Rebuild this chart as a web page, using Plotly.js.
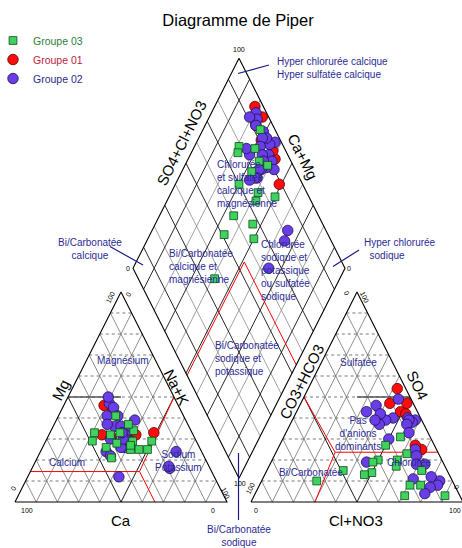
<!DOCTYPE html>
<html><head><meta charset="utf-8">
<script src="https://cdn.plot.ly/plotly-3.0.1.min.js"></script>
<style>html,body{margin:0;padding:0;background:#fff}#chart{width:462px;height:548px}</style>
</head><body><div id="chart"></div>
<script>
// ---- Data (percent of meq) ----
const groupNames = ['Groupe 03', 'Groupe 01', 'Groupe 02'];
// Groupe 03
const g03_na  = [27,39,29,34,50,33,21,22,41,42,30,46,50,35,35,41];
const g03_mg  = [41,34,32,28,29,33,33,29,29,25,26,25,25,37,21,27];
const g03_so4 = [3,15,31,23,8,20,8,17,27,3,20,19,14,13,15,10];
const g03_cl  = [90,73,55,62,76,59,71,60,50,71,50,48,50,47,36,26];
// Groupe 01
const g01_na  = [19,25,41,49,24,38,30];
const g01_mg  = [46,32,32,33,44,30,31];
const g01_so4 = [54,47,25,47,43,42,27];
const g01_cl  = [42,50,68,42,49,52,64];
// Groupe 02
const g02_na  = [37,21,29,23,35,32,24,30,19,37,40,43,31,34,39,36,37,36,64,28,25,37,36,65,34,64];
const g02_mg  = [27,47,36,41,34,36,45,30,50,39,29,12,24,22,26,32,30,28,24,41,37,26,30,16,33,17];
const g02_so4 = [39,38,49,40,39,10,37,8,18,33,12,25,22,7,40,18,4,39,46,42,11,30,37,39,43,19];
const g02_cl  = [58,57,45,54,55,84,55,84,73,58,79,65,67,81,47,69,80,44,36,40,71,50,42,39,33,45];

// ---- Piper geometry ----
const GAP = 0.1132;
function catXY(na, mg) { return [na/100 + mg/200, mg/100]; }
function anXY(cl, so4) { return [1 + GAP + cl/100 + so4/200, so4/100]; }
function diaAC(a, c) { return [1 + GAP/2 + 0.5*(a - c), GAP + a + c]; }
function diaXY(na, cl, so4) { return diaAC((cl + so4)/100, 1 - na/100); }
const PX = px => -15/212 + px/212;
const PY = py => (502 - py)/210;

const FONT = 'Liberation Sans, Arial, sans-serif';
const NAVY = '#2b2b95';

function group(na, mg, so4, cl) {
  const x = [], y = [];
  for (let i = 0; i < na.length; i++) {
    const p1 = catXY(na[i], mg[i]); x.push(p1[0]); y.push(p1[1]);
    const p2 = anXY(cl[i], so4[i]); x.push(p2[0]); y.push(p2[1]);
    const p3 = diaXY(na[i], cl[i], so4[i]); x.push(p3[0]); y.push(p3[1]);
  }
  return {x, y};
}

function lineTrace(segs, color, width, dash) {
  const x = [], y = [];
  segs.forEach(s => { s.forEach(p => { x.push(p[0]); y.push(p[1]); }); x.push(null); y.push(null); });
  return {type:'scatter', mode:'lines', x, y, line:{color, width, dash: dash || 'solid'},
          hoverinfo:'skip', showlegend:false};
}

// grids
const triSlant = [], triMid = [], triHoriz = [], diaBlack = [], diaGray = [];
for (let i = 1; i <= 9; i++) {
  const f = i*10;
  const s = (i === 5) ? triMid : triSlant;
  triHoriz.push([catXY(0, f), catXY(100 - f, f)]);
  s.push([catXY(f, 0), catXY(f, 100 - f)]);
  s.push([catXY(100 - f, 0), catXY(0, 100 - f)]);
  triHoriz.push([anXY(0, f), anXY(100 - f, f)]);
  s.push([anXY(f, 0), anXY(f, 100 - f)]);
  s.push([anXY(100 - f, 0), anXY(0, 100 - f)]);
  const t = (i % 2 === 1) ? diaBlack : diaGray;
  t.push([diaAC(f/100, 0), diaAC(f/100, 1)]);
  t.push([diaAC(0, f/100), diaAC(1, f/100)]);
}
const outlines = [
  [catXY(0,0), catXY(100,0), catXY(0,100), catXY(0,0)],
  [anXY(0,0), anXY(100,0), anXY(0,100), anXY(0,0)],
  [diaAC(0,0), diaAC(1,0), diaAC(1,1), diaAC(0,1), diaAC(0,0)]
];
const darkSegs = [
  [catXY(0,50), catXY(25,50)],
  [anXY(25,50), anXY(50,50)]
];
const redSegs = [
  [catXY(0,14.5), catXY(51.5,14.5), catXY(50,50)],
  [catXY(51.5,14.5), catXY(66,0)],
  [anXY(0,50), anXY(27.8,23.7), anXY(76.3,23.7)],
  [anXY(27.8,23.7), anXY(30.2,0)],
  [diaAC(0,0.49), diaAC(0.54,0.49), diaAC(0.54,0)]
];

const traces = [
  lineTrace(triSlant, '#5e5e5e', 0.7),
  lineTrace(triHoriz, '#6a6a6a', 0.9, 'dot'),
  lineTrace(triMid, '#000', 0.9),
  lineTrace(diaGray, '#8a8a8a', 0.8),
  lineTrace(diaBlack, '#111', 0.9),
  lineTrace(darkSegs, '#555', 1.6),
  lineTrace(redSegs, '#ff0000', 1),
  lineTrace(outlines, '#000', 1.1)
];

const gR = group(g01_na, g01_mg, g01_so4, g01_cl);
const gP = group(g02_na, g02_mg, g02_so4, g02_cl);
const gG = group(g03_na, g03_mg, g03_so4, g03_cl);
traces.push({type:'scatter', mode:'markers', x:gR.x, y:gR.y, legendrank:2,
  name:'<span style="color:#b81c3c">' + groupNames[1] + '</span>',
  marker:{symbol:'circle', size:10.5, color:'#ff0d0d', line:{color:'#5a0000', width:0.8}}});
traces.push({type:'scatter', mode:'markers', x:gP.x, y:gP.y, legendrank:3,
  name:'<span style="color:#2b2b88">' + groupNames[2] + '</span>',
  marker:{symbol:'circle', size:10.5, color:'#6a3ee6', line:{color:'#1c1050', width:0.8}}});
traces.push({type:'scatter', mode:'markers', x:gG.x, y:gG.y, legendrank:1,
  name:'<span style="color:#2e7d3a">' + groupNames[0] + '</span>',
  marker:{symbol:'square', size:7.8, color:'#3fd35e', line:{color:'#0d4a1c', width:0.8}}});

// ---- annotations ----
const ann = [];
function txt(text, px, py, opt) {
  opt = opt || {};
  ann.push({x:PX(px), y:PY(py), xref:'x', yref:'y', text, showarrow:false,
    font:{family:FONT, size:opt.size || 10, color:opt.color || NAVY},
    xanchor:opt.xa || 'center', yanchor:'middle', align:opt.align || 'center',
    textangle:opt.angle || 0});
}
// facies labels
txt('Hyper chlorurée calcique<br>Hyper sulfatée calcique', 275, 68, {xa:'left', align:'left'});
txt('Chlorurée<br>et sulfatée<br>calcique et<br>magnésienne', 215, 184, {xa:'left', align:'left'});
txt('Bi/Carbonatée<br>calcique et<br>magnésienne', 167, 266, {xa:'left', align:'left'});
txt('Chlorurée<br>sodique et<br>potassique<br>ou sulfatée<br>sodique', 259, 270, {xa:'left', align:'left'});
txt('Bi/Carbonatée<br>sodique et<br>potassique', 213, 358, {xa:'left', align:'left'});
txt('Bi/Carbonatée<br>calcique', 90, 249);
txt('Hyper chlorurée<br>\u00a0\u00a0sodique', 362, 249, {xa:'left', align:'left'});
txt('Magnésium', 123, 360);
txt('Calcium', 67, 462);
txt('Sodium<br>Potassium', 178, 461);
txt('Sulfatée', 358, 362);
txt('Pas<br>d\'anions<br>dominants', 358, 433);
txt('Chlorurée', 409, 462);
txt('Bi/Carbonatée', 311, 472);
txt('Bi/Carbonatée<br>sodique', 239, 536);
// axis titles
const AX = {size:15, color:'#000'};
txt('SO4+Cl+NO3', 181, 143, Object.assign({angle:-63.5}, AX));
txt('Ca+Mg', 303, 156, Object.assign({angle:63.5}, AX));
txt('Mg', 60, 390, Object.assign({angle:-63.5}, AX));
txt('Na+K', 177, 387, Object.assign({angle:63.5}, AX));
txt('CO3+HCO3', 301, 382, Object.assign({angle:-63.5}, AX));
txt('SO4', 418, 385, Object.assign({angle:63.5}, AX));
txt('Ca', 121, 520, AX);
txt('Cl+NO3', 356, 520, AX);
// tick labels
const TK = {size:7, color:'#000'};
txt('100', 239, 49, TK);
txt('0', 128, 268, TK);
txt('0', 349, 268, TK);
txt('100', 240, 483, TK);
txt('100', 27, 510, TK);
txt('0', 213, 510, TK);
txt('0', 13, 488, Object.assign({angle:-63.5}, TK));
txt('100', 226, 493, Object.assign({angle:63.5}, TK));
txt('100', 110, 297, Object.assign({angle:-63.5}, TK));
txt('0', 128, 294, Object.assign({angle:-63.5}, TK));
txt('0', 256, 510, TK);
txt('100', 455, 510, TK);
txt('100', 250, 488, Object.assign({angle:-63.5}, TK));
txt('0', 457, 487, Object.assign({angle:63.5}, TK));
txt('0', 347, 293, Object.assign({angle:63.5}, TK));
txt('100', 365, 297, Object.assign({angle:63.5}, TK));

// leader lines
const shapes = [];
function lead(x1, y1, x2, y2) {
  shapes.push({type:'line', xref:'x', yref:'y', x0:PX(x1), y0:PY(y1), x1:PX(x2), y1:PY(y2),
    line:{color:'#1a1a88', width:1.2}});
}
lead(269, 65, 238, 73.5);
lead(110, 246.5, 143, 265);
lead(359, 250, 333, 266.5);
lead(238.5, 453, 238.5, 520);

const layout = {
  width:462, height:548, margin:{l:0, r:0, t:0, b:0, autoexpand:false},
  paper_bgcolor:'#fff', plot_bgcolor:'#fff',
  xaxis:{range:[PX(0), PX(462)], visible:false, fixedrange:true},
  yaxis:{range:[PY(548), PY(0)], visible:false, fixedrange:true},
  title:{text:'Diagramme de Piper', font:{family:FONT, size:16.5, color:'#000'},
         x:238/462, xanchor:'center', y:1 - 20/548, yanchor:'middle', yref:'container'},
  showlegend:true,
  legend:{x:-7/462, y:1 - 26/548, xanchor:'left', yanchor:'top', bgcolor:'rgba(0,0,0,0)',
          font:{family:FONT, size:10.5}, itemwidth:30, tracegroupgap:0},
  annotations:ann, shapes:shapes, hovermode:false
};
Plotly.newPlot('chart', traces, layout, {staticPlot:true, displayModeBar:false});
</script></body></html>
